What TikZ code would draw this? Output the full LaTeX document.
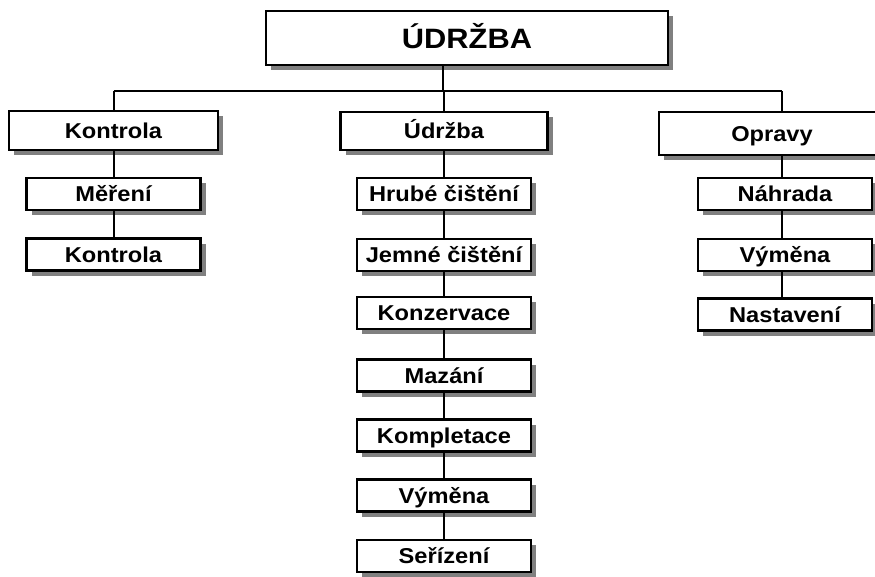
\documentclass[tikz,border=0pt]{standalone}
\usepackage{fontspec}
\setmainfont{Liberation Sans}[FakeStretch=1.1]
\usetikzlibrary{shadows}

\begin{document}
\begin{tikzpicture}[x=1pt, y=-1pt,
    box/.style={draw, line width=2.6pt, fill=white, inner sep=0pt,
      text height=15.4pt, text depth=0pt,
      font=\fontsize{21.5}{23}\selectfont\bfseries,
      drop shadow={shadow xshift=5pt, shadow yshift=-5pt, fill=gray, opacity=1}},
    sub/.style={box, minimum width=174pt, minimum height=32pt},
    link/.style={line width=2pt}]
  \useasboundingbox (0,0) rectangle (875,576);

  % head and the three branches
  \node[box, minimum width=402pt, minimum height=54pt, text height=20pt,
    font=\fontsize{28}{30}\selectfont\bfseries] (main) at (467,38) {ÚDRŽBA};
  \node[box, minimum width=209pt, minimum height=39pt] (kontrola) at (113.5,130.5) {Kontrola};
  \node[box, minimum width=207pt, minimum height=38pt] (udrzba) at (444,131) {Údržba};
  \node[box, minimum width=226pt, minimum height=43pt] (opravy) at (772,133.5) {Opravy};

  % Kontrola
  \node[sub] (mereni) at (113.5,194) {Měření};
  \node[sub] (kontrolaB) at (113.5,254.5) {Kontrola};

  % Údržba
  \node[sub] (hrube) at (444,194) {Hrubé čištění};
  \node[sub] (jemne) at (444,255) {Jemné čištění};
  \node[sub] (konzervace) at (444,313) {Konzervace};
  \node[sub] (mazani) at (444,375.5) {Mazání};
  \node[sub] (kompletace) at (444,435.5) {Kompletace};
  \node[sub] (vymenaU) at (444,495.5) {Výměna};
  \node[sub] (serizeni) at (444,556) {Seřízení};

  % Opravy
  \node[sub] (nahrada) at (785,194) {Náhrada};
  \node[sub] (vymenaO) at (785,255) {Výměna};
  \node[sub] (nastaveni) at (785,314.5) {Nastavení};

  \coordinate (bus) at (443,91);
  \coordinate (colK) at (113.5,91);
  \coordinate (colO) at (782,91);

  \path[link]
    (main.south -| bus) edge (bus)
    (colK) edge (colO)
    (colK) edge (kontrola.north)
    (bus -| udrzba.north) edge (udrzba.north)
    (colO) edge (colO |- opravy.north)
    (kontrola.south) edge (mereni.north)
    (mereni.south) edge (kontrolaB.north)
    (udrzba.south) edge (hrube.north)
    (hrube.south) edge (jemne.north)
    (jemne.south) edge (konzervace.north)
    (konzervace.south) edge (mazani.north)
    (mazani.south) edge (kompletace.north)
    (kompletace.south) edge (vymenaU.north)
    (vymenaU.south) edge (serizeni.north)
    (colO |- opravy.south) edge (colO |- nahrada.north)
    (colO |- nahrada.south) edge (colO |- vymenaO.north)
    (colO |- vymenaO.south) edge (colO |- nastaveni.north);
\end{tikzpicture}
\end{document}
